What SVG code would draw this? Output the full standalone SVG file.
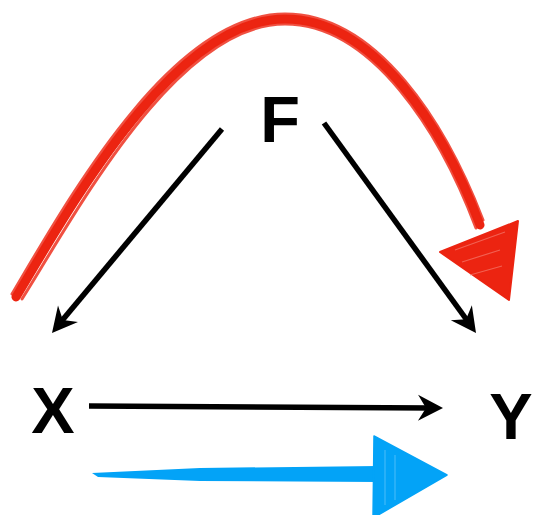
<svg xmlns="http://www.w3.org/2000/svg" width="535" height="515" viewBox="0 0 535 515">
  <style>
    .lbl { font-family: "Liberation Sans", Arial, sans-serif; font-weight: bold; font-size: 65px; fill: #000; text-anchor: middle; }
    .red { fill: none; stroke: #ec2411; stroke-linecap: round; }
  </style>
  <defs>
    <path id="head" d="M0,0 L-25,-13 L-17,0 L-25,13 Z" fill="#000"/>
  </defs>
  <rect width="535" height="515" fill="#fff"/>

  <g id="annotations">
    <g id="red-arrow">
      <path class="red" stroke-width="9" d="M16,297 C73,202 175,19 285,19 C375,19 444,129 480,225"/>
      <path class="red" stroke-width="3" opacity="0.8" d="M12,294 C70,196 172,14 285,14 C378,14 446,124 483,220"/>
      <path class="red" stroke-width="3" opacity="0.8" d="M22,299 C80,206 178,24 285,24 C372,24 440,132 476,228"/>
      <path d="M440,252 L518,221 L509,300 Z" fill="#ec2411" stroke="#ec2411" stroke-width="2" stroke-linejoin="round"/>
      <path d="M455,250 L505,232 M462,262 L500,250 M470,275 L502,266" stroke="#f57a6e" stroke-width="1.2" opacity="0.7"/>
    </g>
    <g id="blue-arrow">
      <path d="M92,473 L200,468 L378,466 L378,482 L200,481 L98,477 Z" fill="#03a3f7"/>
      <path d="M374,436 L447,475 L373,518 Z" fill="#03a3f7" stroke="#03a3f7" stroke-width="1.5" stroke-linejoin="round"/>
      <path d="M385,450 L385,505 M395,455 L395,500" stroke="#7fd0fb" stroke-width="1" opacity="0.6"/>
    </g>
  </g>

  <g id="connectors">
    <g id="edge-F-X">
      <line x1="222" y1="129" x2="60" y2="323" stroke="#000" stroke-width="5.5"/>
      <use href="#head" transform="translate(52,333) rotate(129.8)"/>
    </g>
    <g id="edge-F-Y">
      <line x1="324" y1="123" x2="469" y2="323" stroke="#000" stroke-width="5.5"/>
      <use href="#head" transform="translate(476,333) rotate(54.1)"/>
    </g>
    <g id="edge-X-Y">
      <line x1="89" y1="406" x2="431" y2="408" stroke="#000" stroke-width="5.5"/>
      <use href="#head" transform="translate(443,408) rotate(0.3)"/>
    </g>
  </g>

  <g id="node-F"><text class="lbl" x="280" y="142">F</text></g>
  <g id="node-X"><text class="lbl" x="53" y="433">X</text></g>
  <g id="node-Y"><text class="lbl" x="511" y="439">Y</text></g>
</svg>
